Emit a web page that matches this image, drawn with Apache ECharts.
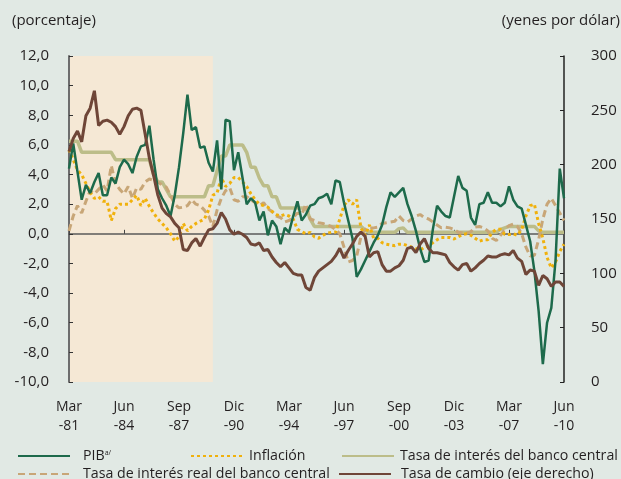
<!DOCTYPE html>
<html>
<head>
<meta charset="utf-8">
<script src="https://cdn.jsdelivr.net/npm/echarts@6/dist/echarts.min.js"></script>
<style>
  html, body { margin: 0; padding: 0; background: #e1e9e4; }
  #chart { width: 621px; height: 479px; }
</style>
</head>
<body>
<div id="chart"></div>
<script>
// trimestres Mar-81 ... Jun-10
const meses = ['Mar', 'Jun', 'Sep', 'Dic']
const categorias = []
for (let y = 1981; y <= 2010; y++) {
    for (let m = 0; m < 4; m++) {
        if (y === 2010 && m > 1) break
        categorias.push(meses[m] + '\n-' + String(y % 100).padStart(2, '0'))
    }
}

const pib = [
    4.4, 6.1, 4.2, 2.3, 3.3, 2.75, 3.5, 4.1, 2.6, 2.6,
    3.8, 3.4, 4.5, 5.0, 4.7, 4.1, 5.2, 5.9, 6.0, 7.3,
    5.0, 3.0, 2.4, 1.9, 1.2, 2.6, 4.5, 6.8, 9.4, 7.0,
    7.2, 5.8, 5.9, 4.8, 4.2, 6.3, 3.0, 7.7, 7.6, 4.3,
    5.5, 3.8, 2.0, 2.4, 2.1, 0.9, 1.5, -0.1, 0.9, 0.5,
    -0.7, 0.4, 0.1, 1.2, 2.2, 0.9, 1.3, 1.9, 2.0, 2.4,
    2.5, 2.7, 2.0, 3.6, 3.5, 2.1, 0.9, -0.3, -2.9, -2.4,
    -1.8, -1.2, -0.6, -0.1, 0.6, 1.8, 2.8, 2.5, 2.8, 3.1,
    2.0, 1.2, 0.2, -1.0, -1.9, -1.8, 0.3, 1.9, 1.5, 1.2,
    1.1, 2.5, 3.9, 3.1, 2.9, 1.1, 0.6, 2.0, 2.1, 2.8,
    2.1, 2.1, 1.85, 2.1, 3.2, 2.3, 1.85, 1.7, 0.6, -0.5,
    -2.5, -5.2, -8.8, -6.0, -5.0, -1.8, 4.4, 2.4
]

const inflacion = [
    5.7, 5.0, 4.3, 4.0, 3.4, 2.8, 2.4, 2.5, 2.2, 2.2,
    0.9, 1.7, 2.0, 2.0, 2.0, 2.3, 2.6, 1.9, 2.4, 1.85,
    1.4, 1.0, 0.7, 0.4, 0.0, -0.5, -0.2, 0.7, 0.2, 0.5,
    0.7, 0.85, 1.0, 1.6, 2.6, 2.75, 3.8, 3.2, 3.4, 3.8,
    3.8, 3.5, 3.2, 2.7, 2.3, 2.0, 1.9, 1.8, 1.5, 1.3,
    1.2, 1.3, 1.2, 1.0, 0.3, 0.15, 0.0, 0.1, -0.2, -0.3,
    -0.1, 0.05, 0.1, 0.1, 1.0, 1.9, 2.3, 2.0, 2.3, 0.4,
    -0.1, 0.6, -0.3, -0.3, -0.6, -0.7, -0.75, -0.8, -0.7, -0.7,
    -0.8, -0.9, -1.0, -1.1, -0.9, -0.8, -0.6, -0.4, -0.25, -0.25,
    -0.25, -0.35, -0.2, -0.05, 0.0, -0.1, -0.3, -0.5, -0.4, -0.4,
    0.1, 0.3, 0.3, -0.05, -0.05, 0.0, -0.1, 0.3, 1.2, 1.9,
    2.0, 0.7, -0.3, -1.6, -2.3, -1.9, -1.2, -0.7
]

const tasaBanco = [
    6.25, 6.25, 6.25, 5.5, 5.5, 5.5, 5.5, 5.5, 5.5, 5.5,
    5.5, 5.0, 5.0, 5.0, 5.0, 5.0, 5.0, 5.0, 5.0, 5.0,
    4.0, 3.5, 3.5, 3.0, 2.5, 2.5, 2.5, 2.5, 2.5, 2.5,
    2.5, 2.5, 2.5, 3.25, 3.25, 4.25, 5.25, 5.25, 6.0, 6.0,
    6.0, 6.0, 5.5, 4.5, 4.5, 3.75, 3.25, 3.25, 2.5, 2.5,
    1.75, 1.75, 1.75, 1.75, 1.75, 1.75, 1.75, 1.0, 0.5, 0.5,
    0.5, 0.5, 0.5, 0.5, 0.5, 0.5, 0.5, 0.5, 0.5, 0.5,
    0.25, 0.1, 0.1, 0.1, 0.1, 0.1, 0.1, 0.1, 0.35, 0.4,
    0.1, 0.1, 0.1, 0.1, 0.1, 0.1, 0.1, 0.1, 0.1, 0.1,
    0.1, 0.1, 0.1, 0.1, 0.1, 0.1, 0.1, 0.1, 0.1, 0.1,
    0.1, 0.1, 0.3, 0.4, 0.5, 0.5, 0.5, 0.5, 0.5, 0.5,
    0.5, 0.2, 0.1, 0.1, 0.1, 0.1, 0.1, 0.1
]

const tasaReal = [
    0.2, 1.2, 1.9, 1.4, 2.2, 2.9, 2.7, 3.0, 3.3, 2.9,
    4.6, 3.4, 3.0, 2.7, 3.2, 2.4, 3.1, 3.0, 3.5, 3.7,
    3.6, 3.5, 3.3, 3.15, 2.6, 2.0, 1.75, 1.8, 1.9, 2.3,
    2.0, 1.9, 1.6, 1.2, 0.5, 1.6, 2.4, 2.9, 3.1, 2.3,
    2.2, 2.5, 2.5, 2.3, 2.1, 1.9, 2.1, 1.7, 1.5, 1.2,
    1.1, 0.8, 0.9, 1.1, 1.4, 1.3, 2.0, 1.0, 0.9, 0.75,
    0.7, 0.6, 0.5, 0.3, 0.0, -0.9, -1.9, -1.8, -1.5, -0.2,
    0.3, 0.4, 0.4, 0.45, 0.7, 0.75, 0.8, 0.85, 1.2, 0.9,
    0.8, 1.0, 1.2, 1.3, 1.1, 1.0, 0.8, 0.6, 0.4, 0.45,
    0.4, 0.3, 0.1, 0.05, 0.05, 0.15, 0.45, 0.5, 0.4, 0.2,
    -0.3, -0.45, -0.1, 0.3, 0.55, 0.65, 0.5, 0.0, -0.9, -1.5,
    -1.45, -0.4, 1.0, 2.0, 2.4, 1.9, 1.4, 0.9
]

// yenes por dólar (eje derecho)
const tipoCambio = [
    212, 224, 231, 221, 245, 252, 268, 236, 240, 241,
    239, 235, 228, 235, 245, 251, 252, 250, 228, 206,
    190, 172, 160, 155, 152, 146, 142, 122, 121, 128,
    132, 125, 133, 140, 141, 146, 156, 150, 140, 136,
    138, 136, 133, 127, 126, 128, 121, 122, 115, 110,
    106, 110, 105, 100, 98.5, 98.5, 87, 84.5, 96, 102,
    105, 108, 111, 116, 123, 114, 121, 127, 134, 138,
    134, 115, 119, 120, 108, 102, 102, 105, 107, 112,
    123, 124, 119, 127, 132, 123, 119, 119, 118, 117,
    110, 106, 103, 108, 109, 102, 105, 109, 112, 116,
    115, 115, 117, 118, 117, 121, 114, 111, 99, 103,
    102, 89, 98, 95, 88, 92, 92, 88
]

// periodo sombreado: Mar-81 a Sep-89
const sombraDesde = 0
const sombraHasta = 34

const fuente = '"Open Sans", sans-serif'
const colorTexto = '#231f20'

// una leyenda por elemento, para poder colocarlas como en el original
let leyenda = (name, left, top, hueco) => ({
    data: [name],
    left: left,
    top: top,
    itemWidth: 52,
    itemHeight: 12,
    selectedMode: false,
    itemStyle: { opacity: 0 }, // sin el circulito en el icono
    formatter: n => n === 'PIB' ? 'PIB{sup|a/}' : n,
    textStyle: {
        fontFamily: fuente,
        fontSize: 14.2,
        color: colorTexto,
        padding: [0, 0, 0, hueco],
        rich: {
            sup: { fontFamily: fuente, fontSize: 7, verticalAlign: 'top', color: colorTexto }
        }
    }
})

let chart = echarts.init(document.getElementById('chart'))
chart.setOption({
    backgroundColor: '#e1e9e4',
    animation: false,
    grid: { left: 69, right: 57, top: 56, bottom: 97 },
    graphic: [
        { type: 'text', left: 12, top: 13, style: { text: '(porcentaje)', font: '15px "Open Sans"', fill: colorTexto } },
        { type: 'text', right: 1, top: 13, style: { text: '(yenes por dólar)', font: '15px "Open Sans"', fill: colorTexto } }
    ],
    legend: [
        leyenda('PIB', 12, 444, 8),
        leyenda('Inflación', 185, 444, 1),
        leyenda('Tasa de interés del banco central', 336, 444, 1),
        leyenda('Tasa de interés real del banco central', 12, 462, 8),
        leyenda('Tasa de cambio (eje derecho)', 333, 462, 5)
    ],
    xAxis: [
        {
            type: 'category',
            data: categorias,
            boundaryGap: false,
            z: 2,
            axisLine: { onZero: true, lineStyle: { color: '#5a5a5a', width: 1.5 } },
            axisTick: { show: true, inside: true, length: 4, interval: 12, lineStyle: { color: '#444' } },
            axisLabel: { show: false },
            splitLine: { show: false }
        },
        {
            type: 'category',
            data: categorias,
            position: 'bottom',
            boundaryGap: false,
            axisLine: { show: false, onZero: false },
            axisTick: { show: false },
            axisLabel: {
                interval: 12,
                margin: 16,
                fontFamily: fuente,
                fontSize: 14,
                lineHeight: 19,
                color: colorTexto
            },
            splitLine: { show: false }
        }
    ],
    yAxis: [
        {
            type: 'value',
            min: -10,
            max: 12,
            interval: 2,
            z: 2,
            axisLine: { show: true, onZero: false, lineStyle: { color: '#6d6d6d', width: 2 } },
            axisTick: { show: true, inside: true, length: 4, lineStyle: { color: '#333' } },
            axisLabel: {
                margin: 20,
                fontFamily: fuente,
                fontSize: 15,
                color: colorTexto,
                formatter: v => v.toFixed(1).replace('.', ',')
            },
            splitLine: { show: false }
        },
        {
            type: 'value',
            min: 0,
            max: 300,
            interval: 50,
            position: 'right',
            z: 2,
            axisLine: { show: true, onZero: false, lineStyle: { color: '#222', width: 1.5 } },
            axisTick: { show: true, inside: true, length: 4, lineStyle: { color: '#222' } },
            axisLabel: { margin: 27, fontFamily: fuente, fontSize: 15, color: colorTexto },
            splitLine: { show: false }
        }
    ],
    series: [
        {
            // solo para la franja sombreada
            name: 'sombra',
            type: 'line',
            data: [],
            z: 0,
            markArea: {
                silent: true,
                z: 0,
                itemStyle: { color: '#f5e8d5' },
                data: [[{ xAxis: categorias[sombraDesde] }, { xAxis: categorias[sombraHasta] }]]
            }
        },
        {
            name: 'Tasa de interés del banco central',
            type: 'line',
            data: tasaBanco,
            symbol: 'none',
            z: 3,
            lineStyle: { color: '#bcbd89', width: 3.5 },
            itemStyle: { color: '#bcbd89' }
        },
        {
            name: 'Tasa de interés real del banco central',
            type: 'line',
            data: tasaReal,
            symbol: 'none',
            z: 4,
            lineStyle: { color: '#c8a677', width: 3, type: [7, 4] },
            itemStyle: { color: '#c8a677' }
        },
        {
            name: 'Inflación',
            type: 'line',
            data: inflacion,
            symbol: 'none',
            z: 5,
            lineStyle: { color: '#f0b10c', width: 3, type: [3, 3] },
            itemStyle: { color: '#f0b10c' }
        },
        {
            name: 'PIB',
            type: 'line',
            data: pib,
            symbol: 'none',
            z: 6,
            lineStyle: { color: '#1d6a4b', width: 2.5 },
            itemStyle: { color: '#1d6a4b' }
        },
        {
            name: 'Tasa de cambio (eje derecho)',
            type: 'line',
            data: tipoCambio,
            yAxisIndex: 1,
            symbol: 'none',
            z: 7,
            lineStyle: { color: '#6f4638', width: 3 },
            itemStyle: { color: '#6f4638' }
        }
    ]
})
</script>
</body>
</html>
